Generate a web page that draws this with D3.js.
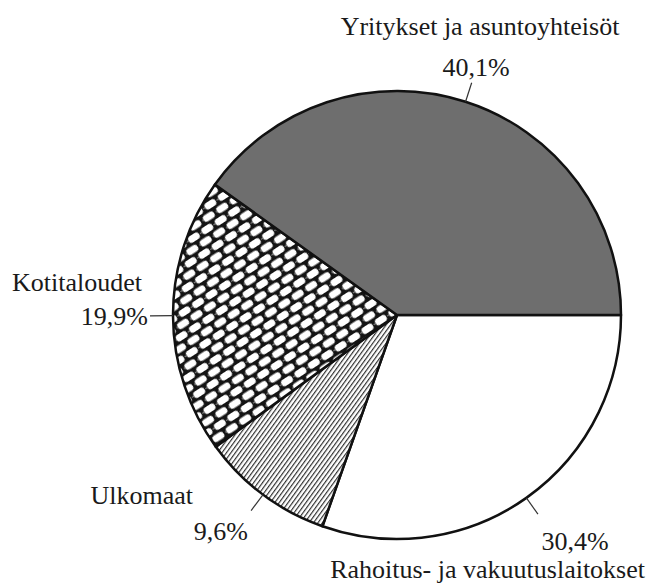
<!DOCTYPE html>
<html>
  <head>
    <script src="https://d3js.org/d3.v7.min.js"></script>
  </head>
  <body>
    <script>

// data, clockwise from 3 o'clock
var categories = ["Rahoitus- ja vakuutuslaitokset", "Ulkomaat", "Kotitaloudet", "Yritykset ja asuntoyhteis\u00f6t"];
var shares = [30.4, 9.6, 19.9, 40.1];
var pctLabels = ["30,4%", "9,6%", "19,9%", "40,1%"];
var fills = ["#fff", "url(#hatch)", "url(#bricks)", "#6e6e6e"];

var width = 646, height = 584;
var cx = 397, cy = 315, r = 224;

d3.select("body").style("margin", "0");

var svg = d3.select("body").append("svg")
    .attr("width", width)
    .attr("height", height)
    .style("font-family", "'Times New Roman'");

var defs = svg.append("defs");

var hatch = defs.append("pattern")
    .attr("id", "hatch")
    .attr("patternUnits", "userSpaceOnUse")
    .attr("width", 3.6).attr("height", 10)
    .attr("patternTransform", "rotate(36)");
hatch.append("rect").attr("width", 3.6).attr("height", 10).attr("fill", "#fff");
hatch.append("line")
    .attr("x1", 0.6).attr("x2", 0.6).attr("y1", 0).attr("y2", 10)
    .attr("stroke", "#222").attr("stroke-width", 1.1);

var bricks = defs.append("pattern")
    .attr("id", "bricks")
    .attr("patternUnits", "userSpaceOnUse")
    .attr("width", 16).attr("height", 19)
    .attr("patternTransform", "rotate(-33)");
bricks.append("rect").attr("width", 16).attr("height", 19).attr("fill", "#141414");
[[1.5, 1.5], [9.5, 11], [-6.5, 11]].forEach(function(p) {
  bricks.append("rect")
      .attr("x", p[0]).attr("y", p[1])
      .attr("width", 12.5).attr("height", 7)
      .attr("rx", 3.2)
      .attr("fill", "#fff");
});
[[0, 5], [8, 14.5]].forEach(function(p) {
  bricks.append("circle").attr("cx", p[0]).attr("cy", p[1]).attr("r", 0.8).attr("fill", "#aaa");
});

var pie = d3.pie()
    .sort(null)
    .startAngle(Math.PI / 2)
    .endAngle(Math.PI / 2 + 2 * Math.PI)
    .value(function(d) { return d; });

var arc = d3.arc().innerRadius(0).outerRadius(r);
var arcs = pie(shares);

var g = svg.append("g").attr("transform", "translate(" + cx + "," + cy + ")");

g.selectAll(".slice")
    .data(arcs)
  .enter().append("path")
    .attr("class", "slice")
    .attr("d", arc)
    .attr("fill", function(d, i) { return fills[i]; })
    .attr("stroke", "#111")
    .attr("stroke-width", 2.5)
    .attr("stroke-linejoin", "round");

// leader lines, radial from the rim
var leaderLen = [20, 20, 23, 20];
g.selectAll(".leader")
    .data(arcs)
  .enter().append("line")
    .attr("class", "leader")
    .attr("stroke", "#333")
    .attr("stroke-width", 1.2)
    .attr("x1", function(d) { var a = (d.startAngle + d.endAngle) / 2; return Math.sin(a) * r; })
    .attr("y1", function(d) { var a = (d.startAngle + d.endAngle) / 2; return -Math.cos(a) * r; })
    .attr("x2", function(d, i) { var a = (d.startAngle + d.endAngle) / 2; return Math.sin(a) * (r + leaderLen[i]); })
    .attr("y2", function(d, i) { var a = (d.startAngle + d.endAngle) / 2; return -Math.cos(a) * (r + leaderLen[i]); });

// label placement (page coordinates)
var namePos = [[645, 578, "end"], [193, 504, "end"], [12, 291, "start"], [480, 35, "middle"]];
var pctPos = [[575, 550, "middle"], [248, 540, "end"], [148, 325, "end"], [476, 76, "middle"]];

svg.selectAll(".name")
    .data(categories)
  .enter().append("text")
    .attr("class", "name")
    .attr("x", function(d, i) { return namePos[i][0]; })
    .attr("y", function(d, i) { return namePos[i][1]; })
    .attr("text-anchor", function(d, i) { return namePos[i][2]; })
    .style("font-family", "'Times New Roman'")
    .style("font-size", "26px")
    .style("fill", "#1a1a1a")
    .text(function(d) { return d; });

svg.selectAll(".pct")
    .data(pctLabels)
  .enter().append("text")
    .attr("class", "pct")
    .attr("x", function(d, i) { return pctPos[i][0]; })
    .attr("y", function(d, i) { return pctPos[i][1]; })
    .attr("text-anchor", function(d, i) { return pctPos[i][2]; })
    .style("font-family", "'Times New Roman'")
    .style("font-size", "26px")
    .style("fill", "#1a1a1a")
    .text(function(d) { return d; });

</script>
  </body>
</html>
